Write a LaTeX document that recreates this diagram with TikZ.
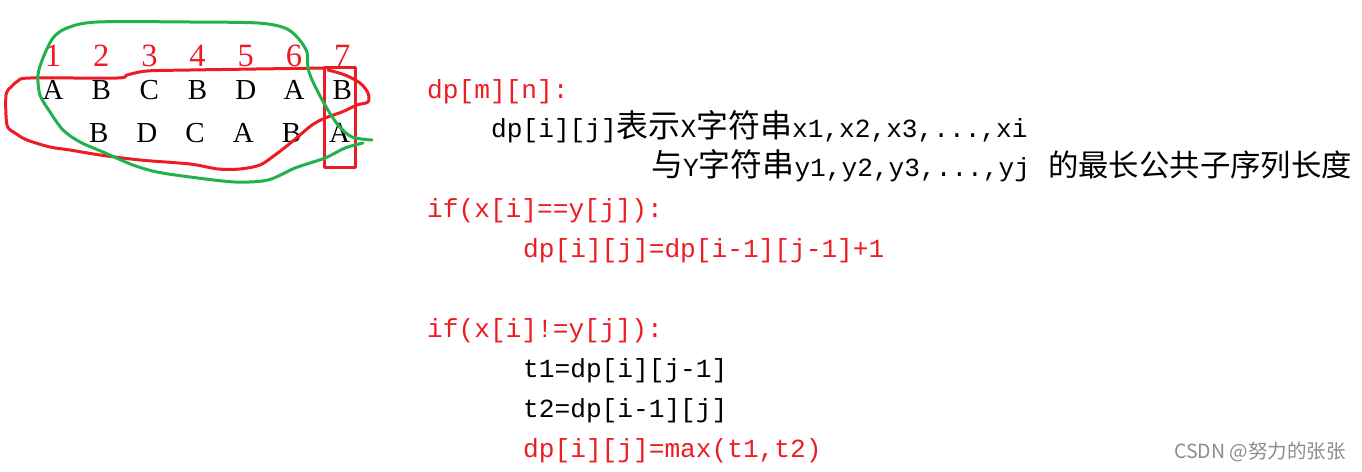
\documentclass[tikz,border=0pt]{standalone}
\usepackage{fontspec}
\setmainfont{Liberation Serif}
\newfontfamily\codefont{Liberation Mono}
\newfontfamily\cjk{Noto Sans CJK SC}[Scale=1.219]
\newfontfamily\cjkw{Noto Sans CJK SC}[Scale=1.16]
\newfontfamily\markfont{Noto Sans CJK SC}
\definecolor{penred}{RGB}{237,28,36}
\definecolor{pengreen}{RGB}{34,177,76}
\definecolor{markgray}{RGB}{140,140,140}
\tikzset{
  num/.style={anchor=base,inner sep=0pt,text=penred,font=\fontsize{32.5}{34}\selectfont},
  chr/.style={anchor=base,inner sep=0pt,font=\fontsize{29}{31}\selectfont},
  code/.style={anchor=base west,inner sep=0pt,font=\codefont\fontsize{26.17}{30}\selectfont},
  hot/.style={code,text=penred},
  pen/.style={line width=3pt,line cap=round,line join=round}
}
\begin{document}
\begin{tikzpicture}[x=1pt,y=-1pt]
\useasboundingbox (0,0) rectangle (1362,471);
\def\colw{48.2}
% indices and the two strings
\foreach \i/\a in {1/A,2/B,3/C,4/B,5/D,6/A,7/B}{
  \node[num] (n\i) at ({53+\colw*(\i-1)},66.5) {\i};
  \node[chr] (a\i) at ({53+\colw*(\i-1)},99) {\a};
}
\foreach \i/\b in {2/B,3/D,4/C,5/A,6/B,7/A}{
  \node[chr] (b\i) at ({50.5+\colw*(\i-1)},142.5) {\b};
}
% last column box
\draw[pen,penred] (324.5,67.7) rectangle (355,167.7);
% red loop
\draw[pen,penred] plot[smooth,tension=0.5] coordinates {(328,70) (345,75) (360,83) (368,93) (368,102)
  (357,105) (342,112) (325,118) (312,125) (300,135) (288,145) (275,155) (260,165) (240,169)
  (218,169) (190,164) (140,160) (100,155) (70,150) (50,147) (27,140) (15,133) (7,125) (6,95)
  (12,86) (18,81) (30,78) (117,78) (127,75) (147,71) (190,70) (325,68)};
% green loop
\draw[pen,pengreen] plot[smooth,tension=0.5] coordinates {(372,140) (352,137) (338,125) (325,105)
  (313,82) (308,68) (307,52) (298,38) (285,28) (258,23) (190,22) (97,22) (67,28) (53,38) (43,58)
  (38,75) (40,95) (50,112) (63,130) (80,142) (103,152) (133,165) (157,172) (190,177) (235,182)
  (268,180) (295,168) (325,158) (345,148) (363,143)};
% recurrence
\node[hot] (l1) at (427,98) {dp[m][n]:};
\node[code] (l2) at (491,137) {dp[i][j]{\cjk 表示}X{\cjk 字符串}x1,x2,x3,...,xi};
\node[code] (l3) at (651,176) {{\cjk 与}Y{\cjk 字符串}y1,y2,y3,...,yj};
\node[code] (l3t) at (1048,176) {\cjkw 的最长公共子序列长度};
\node[hot] (l4) at (427,217) {if(x[i]==y[j]):};
\node[hot] (l5) at (523,257) {dp[i][j]=dp[i-1][j-1]+1};
\node[hot] (l6) at (427,337) {if(x[i]!=y[j]):};
\node[code] (l7) at (523,377) {t1=dp[i][j-1]};
\node[code] (l8) at (523,417) {t2=dp[i-1][j]};
\node[hot] (l9) at (523,457) {dp[i][j]=max(t1,t2)};
\node[anchor=base west,inner sep=0pt,text=markgray,font=\markfont\fontsize{19.5}{21}\selectfont] (mark) at (1174,458) {CSDN @努力的张张};
\end{tikzpicture}
\end{document}
